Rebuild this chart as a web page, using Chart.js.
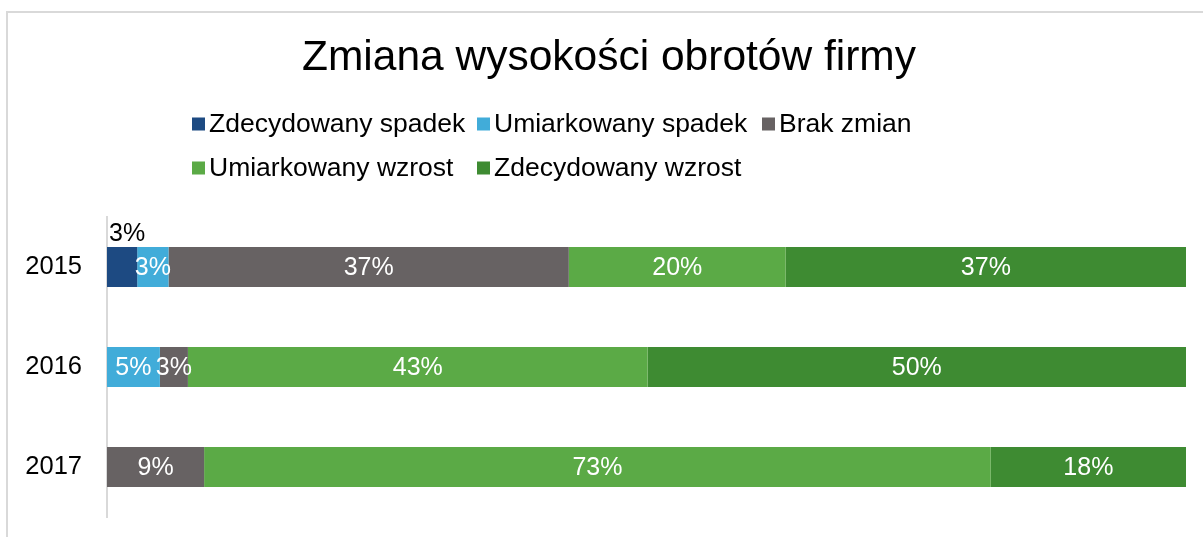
<!DOCTYPE html>
<html>
<head>
<meta charset="utf-8">
<title>Zmiana wysokości obrotów firmy</title>
<script src="https://cdn.jsdelivr.net/npm/chart.js@4"></script>
<style>
html, body { margin: 0; width: 1203px; height: 537px; overflow: hidden; background: #fff; }
#frame { position: absolute; left: 6px; top: 11px; width: 1210px; height: 540px; border-left: 2px solid #d9d9d9; border-top: 2px solid #d9d9d9; }
#wrap { position: absolute; left: 0; top: 0; width: 1203px; height: 537px; }
</style>
</head>
<body>
<div id="frame"></div>
<div id="wrap"><canvas id="myChart" width="1203" height="537"></canvas></div>
<script>
// data (percent of firms)
const categories = ['2015', '2016', '2017'];
const seriesLabels = ['Zdecydowany spadek', 'Umiarkowany spadek', 'Brak zmian', 'Umiarkowany wzrost', 'Zdecydowany wzrost'];
const zdecydowanySpadek = [2.8, 0, 0];
const umiarkowanySpadek = [2.9, 4.9, 0];
const brakZmian = [37.1, 2.6, 9.0];
const umiarkowanyWzrost = [20.1, 42.6, 72.9];
const zdecydowanyWzrost = [37.1, 49.9, 18.1];
const seriesColors = ['#1d4a82', '#41acd9', '#676263', '#5baa46', '#3e8b32'];

const FONT = '"Liberation Sans", Arial, sans-serif';

const seriesValues = [zdecydowanySpadek, umiarkowanySpadek, brakZmian, umiarkowanyWzrost, zdecydowanyWzrost];
const datasets = seriesLabels.map(function(name, i) {
    return {
        label: name,
        data: seriesValues[i],
        backgroundColor: seriesColors[i],
        borderWidth: 0,
        barPercentage: 0.4,
        categoryPercentage: 1
    };
});

// legend laid out in two rows like the original (Excel style columns)
const legendRows = [[0, 1, 2], [3, 4]];
const legendColX = [192, 477, 762];
const legendRowY = [124, 168];

const rowLegend = {
    id: 'rowLegend',
    afterLayout(chart) {
        // the original title is centred a bit right of the canvas centre
        if (chart.titleBlock) chart.titleBlock.left = 32;
    },
    afterDraw(chart) {
        const ctx = chart.ctx;
        ctx.save();
        ctx.font = '26.5px ' + FONT;
        ctx.textBaseline = 'middle';
        ctx.textAlign = 'left';
        legendRows.forEach(function(row, r) {
            row.forEach(function(idx, c) {
                const x = legendColX[c];
                const y = legendRowY[r];
                ctx.fillStyle = chart.data.datasets[idx].backgroundColor;
                ctx.fillRect(x, y - 6.5, 13, 13);
                ctx.fillStyle = '#000';
                ctx.fillText(chart.data.datasets[idx].label, x + 17, y + 1);
            });
        });
        ctx.restore();
    }
};

const barLabels = {
    id: 'barLabels',
    afterDatasetsDraw(chart) {
        const ctx = chart.ctx;
        ctx.save();
        ctx.font = '25px ' + FONT;
        ctx.textBaseline = 'middle';
        chart.data.datasets.forEach(function(ds, i) {
            chart.getDatasetMeta(i).data.forEach(function(bar, j) {
                const v = ds.data[j];
                if (!v) return;
                const p = bar.getProps(['x', 'y', 'base', 'height'], true);
                const text = Math.round(v) + '%';
                if (i === 0) {
                    // too thin for the label, so it sits above the bar
                    ctx.fillStyle = '#000';
                    ctx.textAlign = 'left';
                    ctx.fillText(text, p.base + 2, p.y - p.height / 2 - 13);
                } else {
                    ctx.fillStyle = '#fff';
                    ctx.textAlign = 'center';
                    ctx.fillText(text, (p.x + p.base) / 2, p.y + 1);
                }
            });
        });
        ctx.restore();
    }
};

const ctx = document.getElementById('myChart').getContext('2d');
const myChart = new Chart(ctx, {
    type: 'bar',
    data: { labels: categories, datasets: datasets },
    options: {
        indexAxis: 'y',
        responsive: false,
        animation: false,
        devicePixelRatio: 1,
        layout: { padding: { left: 0, right: 17, top: 0, bottom: 20 } },
        plugins: {
            legend: { display: false },
            tooltip: { enabled: false },
            title: {
                display: true,
                text: 'Zmiana wysokości obrotów firmy',
                color: '#000',
                font: { family: FONT, size: 42.5, weight: 'normal', lineHeight: 1.2 },
                padding: { top: 33, bottom: 133 }
            }
        },
        scales: {
            x: {
                stacked: true,
                min: 0,
                max: 100,
                display: false
            },
            y: {
                stacked: true,
                grid: { display: false, drawTicks: false },
                border: { display: true, color: '#d9d9d9', width: 2 },
                ticks: { color: '#000', padding: 25, font: { family: FONT, size: 25.5 } },
                afterFit: function(scale) {
                    scale.width = 107;
                    scale.paddingTop = 0;
                    scale.paddingBottom = 0;
                }
            }
        }
    },
    plugins: [barLabels, rowLegend]
});
</script>
</body>
</html>
